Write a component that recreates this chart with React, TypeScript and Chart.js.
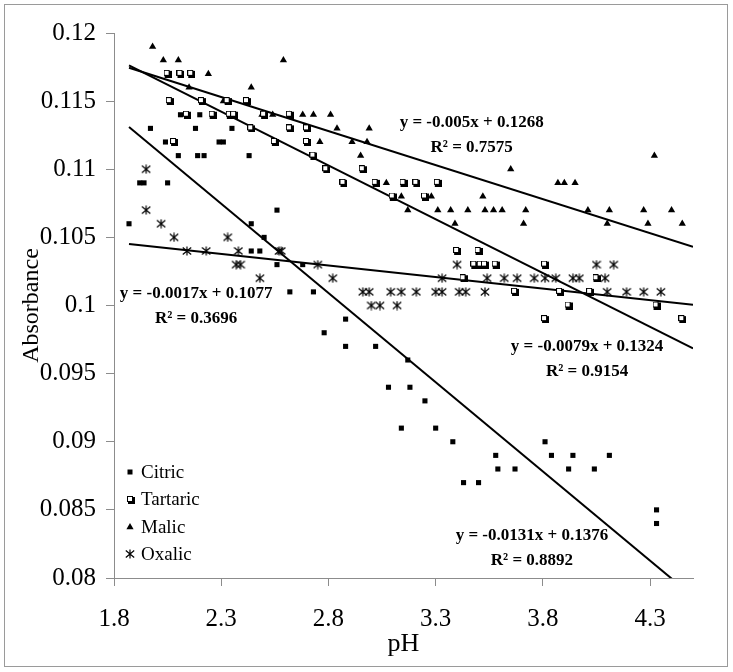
import React, { useEffect, useRef } from 'react';
import { Chart, registerables } from 'chart.js';

Chart.register(...registerables);

const seriesNames = ['Citric', 'Tartaric', 'Malic', 'Oxalic'];

const citricPH = [1.87, 1.92, 1.94, 1.97, 2.04, 2.05, 2.10, 2.11, 2.18, 2.19, 2.22, 2.20, 2.29, 2.31, 2.35, 2.43, 2.44, 2.44, 2.48, 2.50, 2.56, 2.56, 2.62, 2.68, 2.73, 2.78, 2.88, 2.88, 3.02, 3.17, 3.08, 3.18, 3.25, 3.14, 3.30, 3.38, 3.43, 3.50, 3.58, 3.59, 3.67, 3.81, 3.84, 3.94, 3.92, 4.04, 4.11, 4.33, 4.33];
const citricAbs = [0.106, 0.109, 0.109, 0.113, 0.112, 0.109, 0.111, 0.114, 0.113, 0.111, 0.111, 0.114, 0.112, 0.112, 0.113, 0.111, 0.106, 0.104, 0.104, 0.105, 0.107, 0.103, 0.101, 0.103, 0.101, 0.098, 0.099, 0.097, 0.097, 0.096, 0.094, 0.094, 0.093, 0.091, 0.091, 0.090, 0.087, 0.087, 0.089, 0.088, 0.088, 0.090, 0.089, 0.089, 0.088, 0.088, 0.089, 0.085, 0.084];

const tartaricPH = [2.05, 2.11, 2.16, 2.06, 2.21, 2.33, 2.42, 2.14, 2.26, 2.34, 2.36, 2.50, 2.62, 2.44, 2.62, 2.70, 2.08, 2.55, 2.70, 2.73, 2.79, 2.96, 2.87, 3.02, 3.15, 3.21, 3.31, 3.10, 3.25, 3.40, 3.50, 3.48, 3.51, 3.53, 3.58, 3.43, 3.67, 3.81, 4.05, 3.88, 4.02, 3.92, 4.33, 3.81, 4.45];
const tartaricAbs = [0.117, 0.117, 0.117, 0.115, 0.115, 0.115, 0.115, 0.114, 0.114, 0.114, 0.114, 0.114, 0.114, 0.113, 0.113, 0.113, 0.112, 0.112, 0.112, 0.111, 0.110, 0.110, 0.109, 0.109, 0.109, 0.109, 0.109, 0.108, 0.108, 0.104, 0.104, 0.103, 0.103, 0.103, 0.103, 0.102, 0.101, 0.103, 0.102, 0.101, 0.101, 0.100, 0.100, 0.099, 0.099];

const malicPH = [1.98, 2.03, 2.10, 2.59, 2.16, 2.24, 2.15, 2.44, 2.31, 2.33, 2.49, 2.54, 2.62, 2.68, 2.73, 2.81, 2.84, 2.99, 2.76, 2.91, 2.98, 2.95, 3.65, 3.07, 3.15, 3.14, 3.28, 3.52, 3.17, 3.31, 3.37, 3.45, 3.53, 3.57, 3.61, 3.72, 4.01, 4.11, 4.27, 4.40, 3.39, 3.71, 4.10, 4.29, 4.45, 4.32, 3.87, 3.90, 3.95];
const malicAbs = [0.119, 0.118, 0.118, 0.118, 0.117, 0.117, 0.116, 0.116, 0.115, 0.115, 0.114, 0.114, 0.114, 0.114, 0.114, 0.114, 0.113, 0.113, 0.112, 0.112, 0.112, 0.111, 0.110, 0.109, 0.109, 0.108, 0.108, 0.108, 0.107, 0.107, 0.107, 0.107, 0.107, 0.107, 0.107, 0.107, 0.107, 0.107, 0.107, 0.107, 0.106, 0.106, 0.106, 0.106, 0.106, 0.111, 0.109, 0.109, 0.109];

const oxalicPH = [1.95, 1.95, 2.02, 2.08, 2.14, 2.23, 2.33, 2.38, 2.37, 2.39, 2.48, 2.57, 2.58, 2.75, 2.82, 2.96, 2.99, 3.09, 3.14, 3.21, 3.30, 3.33, 3.41, 3.44, 3.53, 3.00, 3.04, 3.12, 3.33, 3.40, 3.54, 3.62, 3.68, 3.76, 3.81, 3.86, 3.94, 3.97, 4.09, 4.05, 4.13, 4.10, 4.19, 4.27, 4.35];
const oxalicAbs = [0.110, 0.107, 0.106, 0.105, 0.104, 0.104, 0.105, 0.104, 0.103, 0.103, 0.102, 0.104, 0.104, 0.103, 0.102, 0.101, 0.101, 0.101, 0.101, 0.101, 0.101, 0.101, 0.101, 0.101, 0.101, 0.100, 0.100, 0.100, 0.102, 0.103, 0.102, 0.102, 0.102, 0.102, 0.102, 0.102, 0.102, 0.102, 0.102, 0.103, 0.103, 0.101, 0.101, 0.101, 0.101];

const trendSlopes = [-0.0131, -0.0079, -0.005, -0.0017];
const trendIntercepts = [0.1376, 0.1324, 0.1268, 0.1077];
const trendEquations = ['y = -0.0131x + 0.1376', 'y = -0.0079x + 0.1324', 'y = -0.005x + 0.1268', 'y = -0.0017x + 0.1077'];
const trendR2 = ['R\u00B2 = 0.8892', 'R\u00B2 = 0.9154', 'R\u00B2 = 0.7575', 'R\u00B2 = 0.3696'];
const trendFrom = 1.87;
const trendTo = 4.5;

const xTicks = [1.8, 2.3, 2.8, 3.3, 3.8, 4.3];
const yTicks = [0.08, 0.085, 0.09, 0.095, 0.1, 0.105, 0.11, 0.115, 0.12];

const xTitle = 'pH';
const yTitle = 'Absorbance';

const SERIF = "'Liberation Serif', 'Times New Roman', serif";

function makeCanvas(w: number, h: number, draw: (c: CanvasRenderingContext2D) => void) {
  const c = document.createElement('canvas');
  c.width = w;
  c.height = h;
  const ctx = c.getContext('2d');
  if (ctx) draw(ctx);
  return c;
}

export default function App() {
  const ref = useRef<HTMLCanvasElement | null>(null);

  useEffect(() => {
    if (!ref.current) return;

    const tartaricImg = makeCanvas(8, 8, (c) => {
      c.fillStyle = '#000';
      c.fillRect(1, 1, 7, 7);
      c.fillRect(0, 0, 6, 6);
      c.fillStyle = '#fff';
      c.fillRect(1, 1, 4, 4);
    });
    const oxalicImg = makeCanvas(10, 10, (c) => {
      c.strokeStyle = '#000';
      c.lineWidth = 1.2;
      c.beginPath();
      c.moveTo(5, 0.5);
      c.lineTo(5, 9.5);
      c.moveTo(0.8, 1.5);
      c.lineTo(9.2, 8.5);
      c.moveTo(0.8, 8.5);
      c.lineTo(9.2, 1.5);
      c.stroke();
    });

    const pts = (xs: number[], ys: number[]) => xs.map((x, i) => ({ x, y: ys[i] }));
    const seriesData = [
      pts(citricPH, citricAbs),
      pts(tartaricPH, tartaricAbs),
      pts(malicPH, malicAbs),
      pts(oxalicPH, oxalicAbs),
    ];
    const styles: any[] = [
      { pointStyle: 'rect', pointRadius: 3.6, backgroundColor: '#000', borderColor: '#000', borderWidth: 0 },
      { pointStyle: tartaricImg, pointRadius: 4 },
      { pointStyle: 'triangle', pointRadius: 4.2, backgroundColor: '#000', borderColor: '#000', borderWidth: 0 },
      { pointStyle: oxalicImg, pointRadius: 5 },
    ];

    const trendSets = trendSlopes.map((m, i) => ({
      label: seriesNames[i] + ' trend',
      data: [
        { x: trendFrom, y: m * trendFrom + trendIntercepts[i] },
        { x: trendTo, y: m * trendTo + trendIntercepts[i] },
      ],
      showLine: true,
      borderColor: '#000',
      borderWidth: 2,
      pointRadius: 0,
      order: 2,
    }));

    const pointSets = seriesData.map((d, i) => ({
      label: seriesNames[i],
      data: d,
      showLine: false,
      order: 1,
      ...styles[i],
    }));

    // label anchors (data units) for the trend-line equations
    const labelAnchorX = [3.749, 4.006, 3.468, 2.183];
    const labelAnchorY = [0.08308, 0.09696, 0.11339, 0.10084];

    const drawMarker = (ctx: CanvasRenderingContext2D, k: number, x: number, y: number) => {
      ctx.fillStyle = '#000';
      if (k === 0) {
        ctx.fillRect(x - 2.5, y - 2.5, 5, 5);
      } else if (k === 1) {
        ctx.drawImage(tartaricImg, Math.round(x - 3.5), Math.round(y - 3.5));
      } else if (k === 2) {
        ctx.beginPath();
        ctx.moveTo(x, y - 3.5);
        ctx.lineTo(x + 3.6, y + 2.6);
        ctx.lineTo(x - 3.6, y + 2.6);
        ctx.closePath();
        ctx.fill();
      } else {
        ctx.drawImage(oxalicImg, Math.round(x - 5), Math.round(y - 5));
      }
    };

    const decorPlugin = {
      id: 'decor',
      beforeDraw(chart: any) {
        const ctx = chart.ctx;
        ctx.save();
        ctx.fillStyle = '#fff';
        ctx.fillRect(0, 0, chart.width, chart.height);
        ctx.strokeStyle = '#9a9a9a';
        ctx.lineWidth = 1;
        ctx.strokeRect(4.5, 4.5, chart.width - 10, chart.height - 10);
        ctx.restore();
      },
      afterDraw(chart: any) {
        const ctx = chart.ctx;
        const xs = chart.scales.x;
        const ys = chart.scales.y;
        const area = chart.chartArea;
        ctx.save();
        ctx.fillStyle = '#000';
        ctx.textAlign = 'center';
        ctx.textBaseline = 'middle';
        ctx.font = `bold 17px ${SERIF}`;
        for (let i = 0; i < trendEquations.length; i++) {
          const px = xs.getPixelForValue(labelAnchorX[i]);
          const py = ys.getPixelForValue(labelAnchorY[i]);
          ctx.fillText(trendEquations[i], px, py);
          ctx.fillText(trendR2[i], px, py + 25);
        }
        ctx.textAlign = 'left';
        ctx.font = `19px ${SERIF}`;
        const lx = area.left + 16;
        const ly0 = area.bottom - 106;
        for (let i = 0; i < seriesNames.length; i++) {
          const y = ly0 + i * 27.3;
          drawMarker(ctx, i, lx, y);
          ctx.fillStyle = '#000';
          ctx.fillText(seriesNames[i], lx + 11, y + 1);
        }
        ctx.restore();
      },
    };

    const axisColor = '#8c8c8c';

    const chart = new Chart(ref.current, {
      type: 'scatter',
      data: { datasets: [...pointSets, ...trendSets] as any },
      options: {
        animation: false,
        responsive: false,
        devicePixelRatio: 1,
        layout: { padding: { top: 33, right: 40, left: 0, bottom: 0 } },
        plugins: {
          legend: { display: false },
          tooltip: { enabled: false },
        },
        scales: {
          x: {
            type: 'linear',
            min: 1.8,
            max: 4.5,
            afterBuildTicks: (scale: any) => {
              scale.ticks = xTicks.map((v) => ({ value: v }));
            },
            afterFit: (scale: any) => {
              scale.height = 94;
            },
            ticks: {
              color: '#000',
              font: { family: SERIF, size: 25 },
              padding: 18,
              maxRotation: 0,
              autoSkip: false,
              callback: (v: any) => String(v),
            },
            grid: { drawOnChartArea: false, drawTicks: true, tickLength: 8, color: axisColor },
            border: { display: true, color: axisColor, width: 1 },
            title: {
              display: true,
              text: xTitle,
              color: '#000',
              font: { family: SERIF, size: 26 },
              padding: { top: 0, bottom: 12 },
            },
          },
          y: {
            type: 'linear',
            min: 0.08,
            max: 0.12,
            afterBuildTicks: (scale: any) => {
              scale.ticks = yTicks.map((v) => ({ value: v }));
            },
            afterFit: (scale: any) => {
              scale.width = 114;
            },
            ticks: {
              color: '#000',
              font: { family: SERIF, size: 25 },
              padding: 10,
              autoSkip: false,
              callback: (v: any) => String(v),
            },
            grid: { drawOnChartArea: false, drawTicks: true, tickLength: 8, color: axisColor },
            border: { display: true, color: axisColor, width: 1 },
            title: {
              display: true,
              text: yTitle,
              color: '#000',
              font: { family: SERIF, size: 24 },
              padding: { top: 17, bottom: 0 },
            },
          },
        },
      },
      plugins: [decorPlugin],
    });

    return () => {
      chart.destroy();
    };
  }, []);

  return (
    <div style={{ position: 'absolute', left: 0, top: 0, width: 733, height: 672, background: '#fff' }}>
      <canvas ref={ref} width={733} height={672} style={{ display: 'block' }} />
    </div>
  );
}
